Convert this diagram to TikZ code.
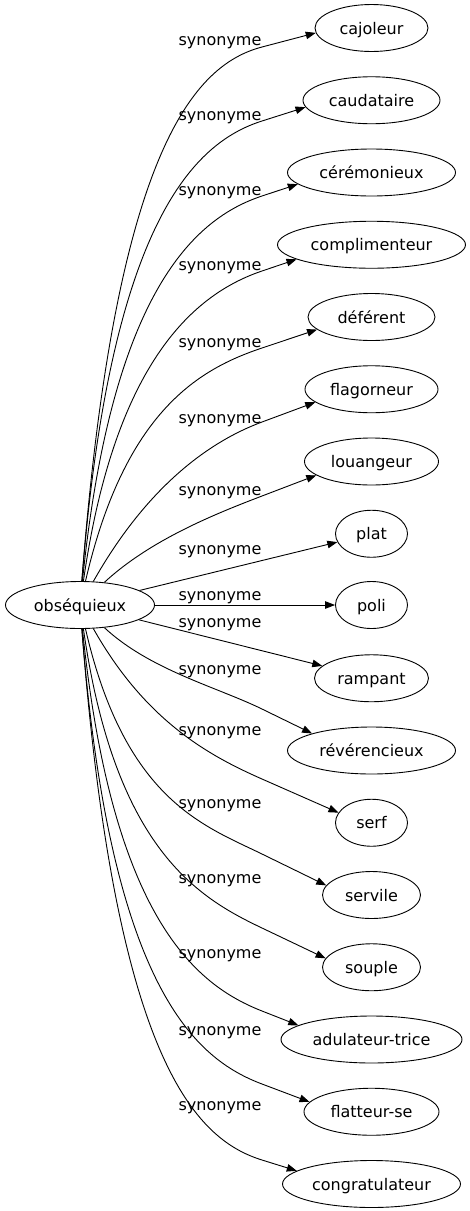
\documentclass[tikz,border=0pt]{standalone}
\usepackage{fontspec}
\setmainfont{DejaVu Sans}
\usetikzlibrary{arrows.meta,shapes.geometric,calc}
\begin{document}
\begin{tikzpicture}[x=1pt,y=-1pt,
  every node/.style={font=\fontsize{16}{19}\selectfont},
  word/.style={ellipse,draw,line width=0.9pt,inner sep=0pt,minimum height=47pt,text height=14pt,text depth=2pt},
  lab/.style={anchor=base,inner sep=0pt},
  syn/.style={line width=0.9pt,-{Triangle[length=10pt,width=7.5pt]}}
]
\useasboundingbox (0,0) rectangle (469,1211);
% nodes
\node[word,minimum width=149pt] (o) at (80,605) {obséquieux};
\node[word,minimum width=113pt] (t1) at (371.5,28) {cajoleur};
\node[word,minimum width=137pt] (t2) at (371.5,100.25) {caudataire};
\node[word,minimum width=168pt] (t3) at (371.5,172.5) {cérémonieux};
\node[word,minimum width=188pt] (t4) at (371.5,244.75) {complimenteur};
\node[word,minimum width=127pt] (t5) at (371.5,317) {déférent};
\node[word,minimum width=133pt] (t6) at (371.5,389.25) {flagorneur};
\node[word,minimum width=134pt] (t7) at (371.5,461.5) {louangeur};
\node[word,minimum width=72pt] (t8) at (371.5,533.75) {plat};
\node[word,minimum width=72pt] (t9) at (371.5,605) {poli};
\node[word,minimum width=114pt] (t10) at (371.5,678.25) {rampant};
\node[word,minimum width=168pt] (t11) at (371.5,750.5) {révérencieux};
\node[word,minimum width=72pt] (t12) at (371.5,822.75) {serf};
\node[word,minimum width=98pt] (t13) at (371.5,895) {servile};
\node[word,minimum width=98pt] (t14) at (371.5,967.25) {souple};
\node[word,minimum width=181pt] (t15) at (371.5,1039.5) {adulateur-trice};
\node[word,minimum width=135pt] (t16) at (371.5,1111.75) {flatteur-se};
\node[word,minimum width=178pt] (t17) at (371.5,1184) {congratulateur};
% labels
\foreach \i/\y in {1/45,2/120,3/195,4/270,5/347,6/423,7/495,8/554,9/600,10/627,11/674,12/735,13/808,14/883,15/958,16/1035,17/1110}
  \node[lab] (l\i) at (220,\y) {synonyme};
% waypoints
\coordinate (w1) at (262,47);
\coordinate (w2) at (262,121);
\coordinate (w3) at (262,196);
\coordinate (w4) at (262,271);
\coordinate (w5) at (262,348);
\coordinate (w6) at (262,422);
\coordinate (w7) at (262,496);
\coordinate (w11) at (262,709);
\coordinate (w12) at (262,779);
\coordinate (w13) at (262,854);
\coordinate (w14) at (262,928);
\coordinate (w15) at (262,1011);
\coordinate (w16) at (262,1084);
\coordinate (w17) at (262,1160);
% edges (upper)
\draw[syn] (o) .. controls (115,150) and ($(w1)!-70pt!(t1.185)$) .. (w1) -- (t1.185);
\draw[syn] (o) .. controls (110,220) and ($(w2)!-70pt!(t2.186.5)$) .. (w2) -- (t2.186.5);
\draw[syn] (o) .. controls (112,290) and ($(w3)!-70pt!(t3.189.3)$) .. (w3) -- (t3.189.3);
\draw[syn] (o) .. controls (115,360) and ($(w4)!-70pt!(t4.191.3)$) .. (w4) -- (t4.191.3);
\draw[syn] (o) .. controls (125,410) and ($(w5)!-65pt!(t5.193)$) .. (w5) -- (t5.193);
\draw[syn] (o) .. controls (145,490) and ($(w6)!-60pt!(t6.193.7)$) .. (w6) -- (t6.193.7);
\draw[syn] (o) .. controls (150,540) and ($(w7)!-50pt!(t7.194.3)$) .. (w7) -- (t7.194.3);
% straight edges
\draw[syn] (o) -- (t8);
\draw[syn] (o) -- (t9);
\draw[syn] (o) -- (t10);
% edges (lower)
\draw[syn] (o) .. controls (150,670) and ($(w11)!-50pt!(t11.164.6)$) .. (w11) -- (t11.164.6);
\draw[syn] (o) .. controls (145,720) and ($(w12)!-60pt!(t12.163.6)$) .. (w12) -- (t12.163.6);
\draw[syn] (o) .. controls (125,800) and ($(w13)!-65pt!(t13.168.3)$) .. (w13) -- (t13.168.3);
\draw[syn] (o) .. controls (115,850) and ($(w14)!-70pt!(t14.169.2)$) .. (w14) -- (t14.169.2);
\draw[syn] (o) .. controls (112,920) and ($(w15)!-70pt!(t15.169.7)$) .. (w15) -- (t15.169.7);
\draw[syn] (o) .. controls (110,990) and ($(w16)!-70pt!(t16.171.7)$) .. (w16) -- (t16.171.7);
\draw[syn] (o) .. controls (115,1060) and ($(w17)!-70pt!(t17.170.6)$) .. (w17) -- (t17.170.6);
\end{tikzpicture}
\end{document}
